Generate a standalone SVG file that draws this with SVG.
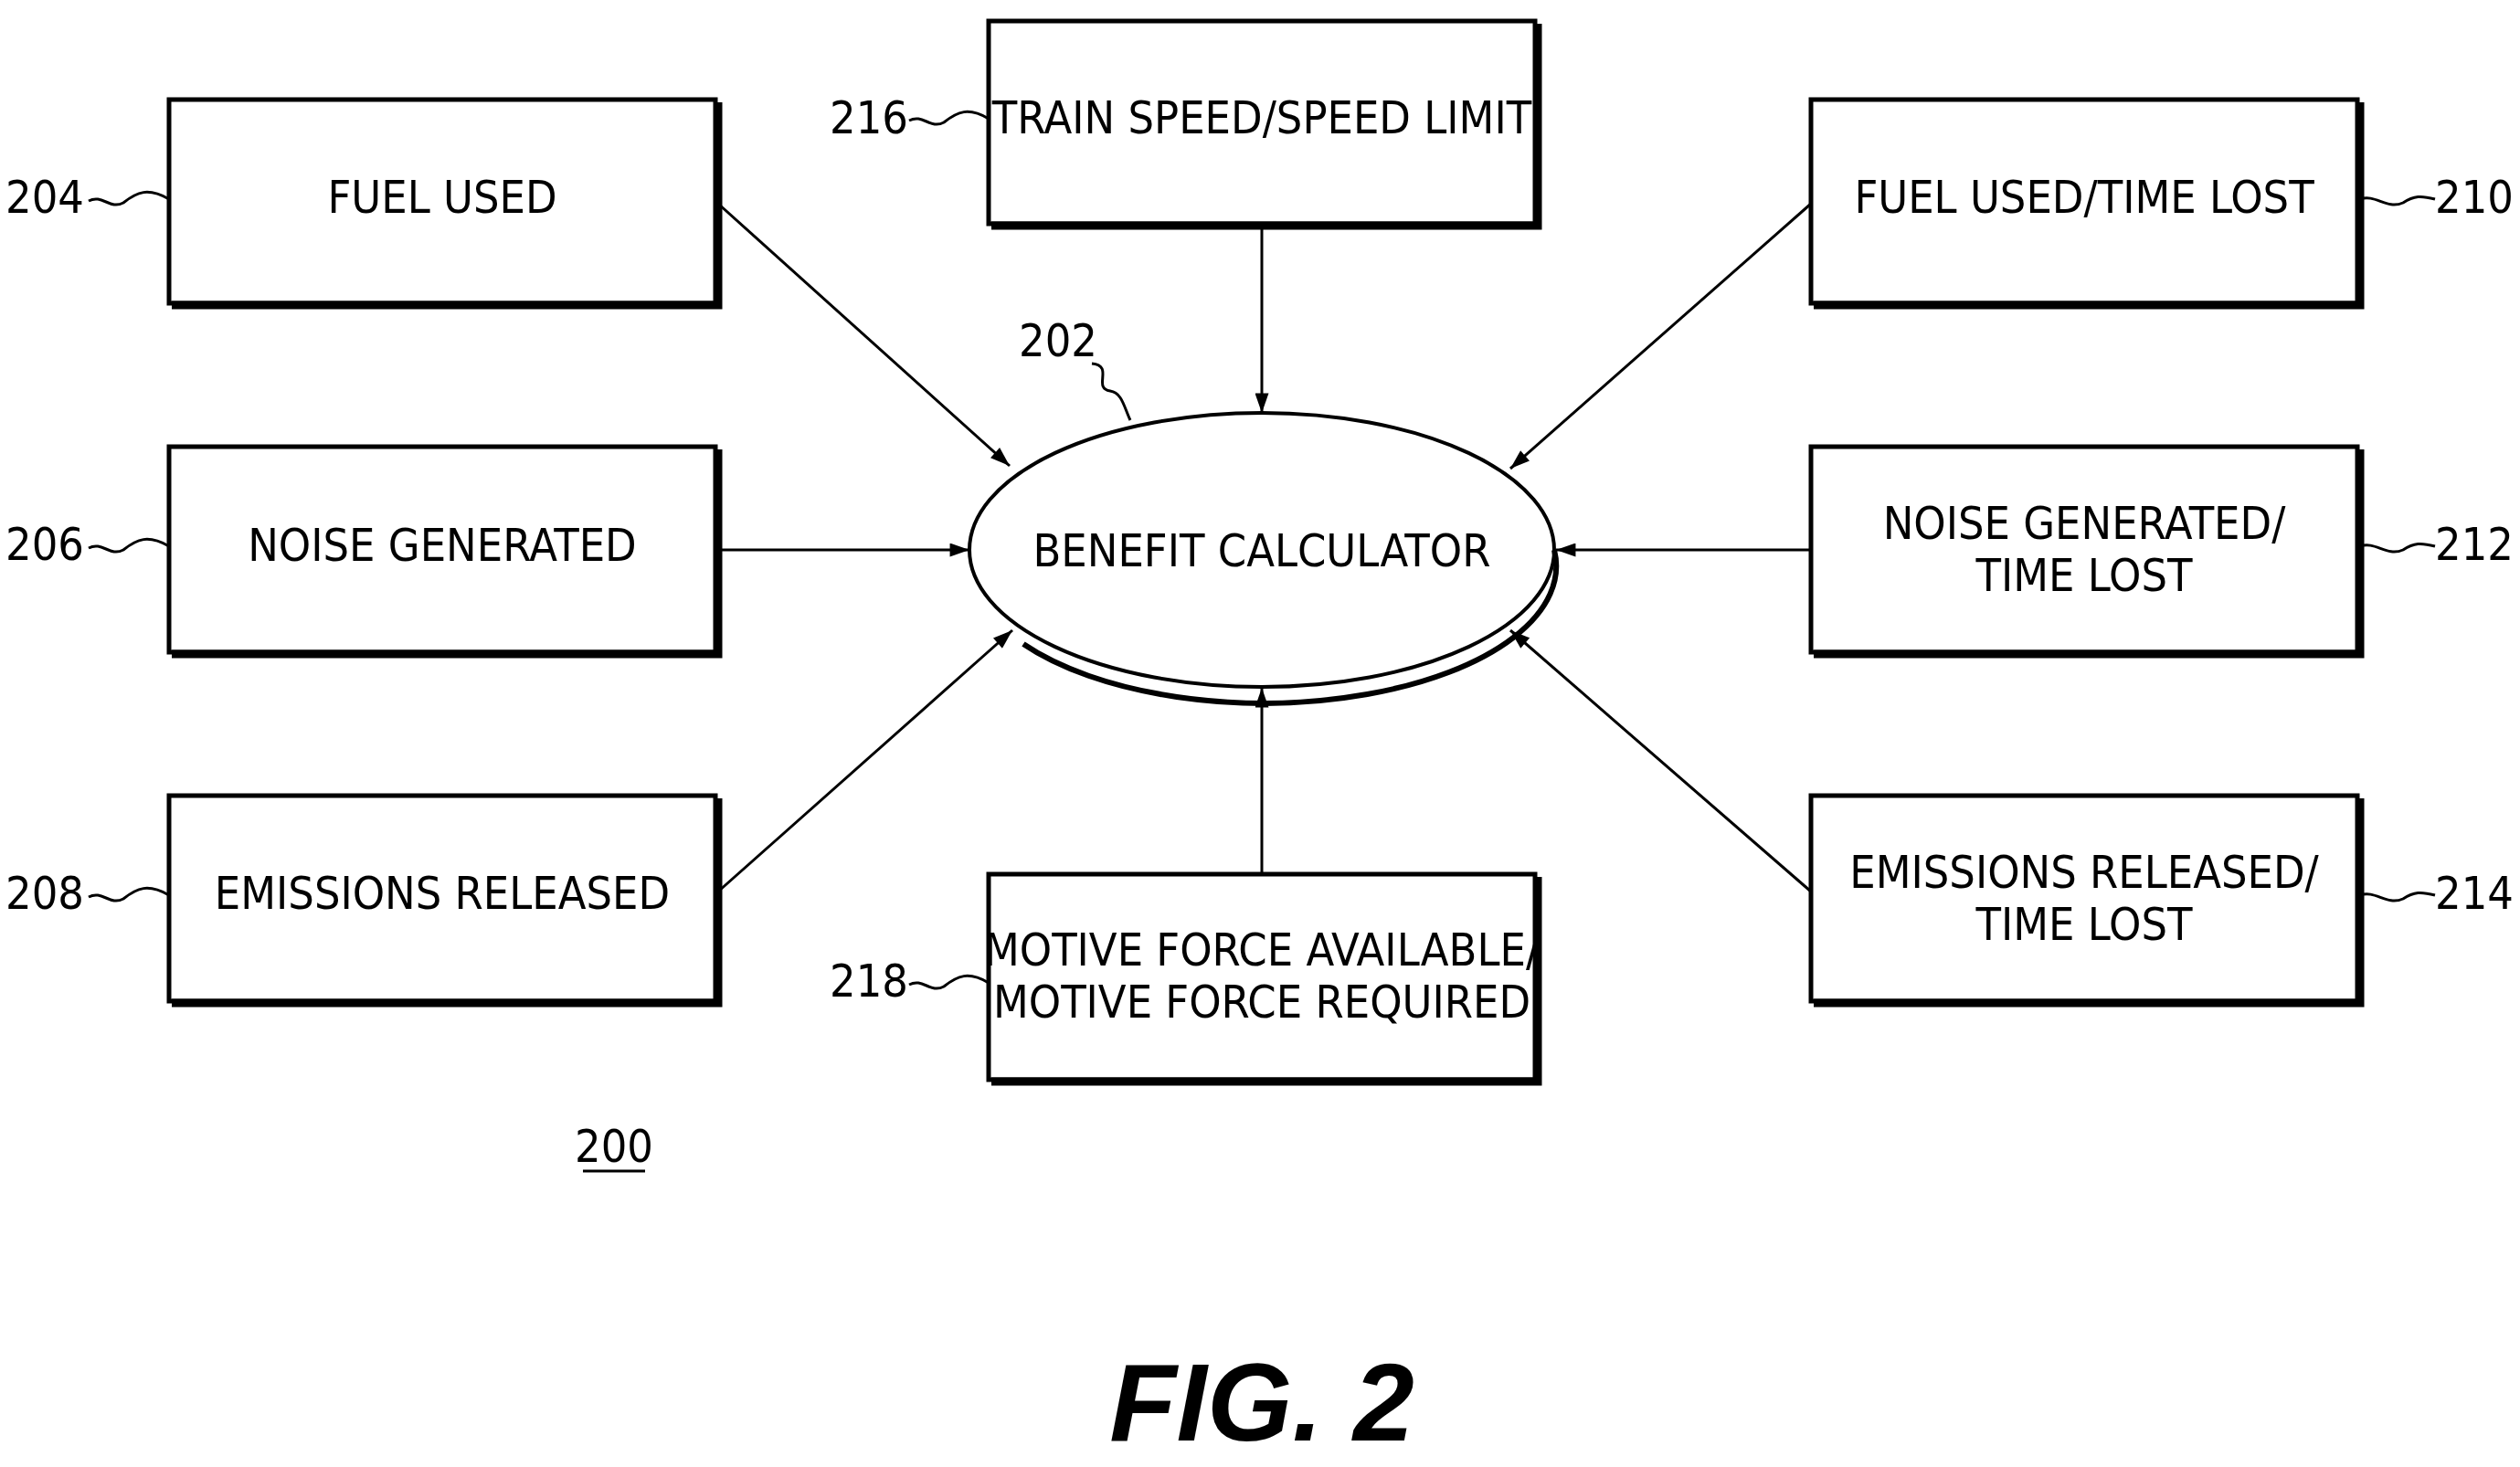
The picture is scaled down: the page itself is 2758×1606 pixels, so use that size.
<svg xmlns="http://www.w3.org/2000/svg" width="2758" height="1606" viewBox="0 0 2758 1606">
<style>
.b{fill:#fff;stroke:#000;stroke-width:5}
.s{stroke:#000;stroke-width:9;fill:none}
.t{font-family:"Liberation Sans Narrow","DejaVu Sans Condensed","Liberation Sans",sans-serif;font-size:50px;text-anchor:middle;fill:#000}
.c{stroke:#000;stroke-width:3;fill:none}
.q{stroke:#000;stroke-width:3;fill:none}
</style>
<defs><marker id="a" markerWidth="10" markerHeight="8" refX="10" refY="4" orient="auto" markerUnits="userSpaceOnUse" viewBox="0 0 10 8"><path d="M0,0 L10,4 L0,8 z" fill="#000"/></marker>
<marker id="A" viewBox="0 0 20 14" refX="20" refY="7" markerWidth="22" markerHeight="15" orient="auto" markerUnits="userSpaceOnUse"><path d="M0,0 L20,7 L0,14 z" fill="#000"/></marker></defs>
<rect width="2758" height="1606" fill="#fff"/>
<g id="n204"><rect class="b" x="185" y="109" width="598" height="223"/><path class="s" d="M188,334 H786 V112"/><text class="t" x="484" y="233">FUEL USED</text><text class="t" x="49" y="233">204</text><path class="q" d="M97,220 C112,212 120,230 135,222 C150,210 162,205 185,218"/></g>
<g id="n206"><rect class="b" x="185" y="489" width="598" height="225"/><path class="s" d="M188,716 H786 V492"/><text class="t" x="484" y="614">NOISE GENERATED</text><text class="t" x="49" y="613">206</text><path class="q" d="M97,600 C112,592 120,610 135,602 C150,590 162,585 185,598"/></g>
<g id="n208"><rect class="b" x="185" y="871" width="598" height="225"/><path class="s" d="M188,1098 H786 V874"/><text class="t" x="484" y="995">EMISSIONS RELEASED</text><text class="t" x="49" y="995">208</text><path class="q" d="M97,982 C112,974 120,992 135,984 C150,972 162,967 185,980"/></g>
<g id="n210"><rect class="b" x="1982" y="109" width="598" height="223"/><path class="s" d="M1985,334 H2583 V112"/><text class="t" x="2281" y="233">FUEL USED/TIME LOST</text><text class="t" x="2708" y="233">210</text><path class="q" d="M2583,218 C2600,212 2612,230 2630,222 C2642,214 2650,214 2665,218"/></g>
<g id="n212"><rect class="b" x="1982" y="489" width="598" height="225"/><path class="s" d="M1985,716 H2583 V492"/><text class="t" x="2281" y="590">NOISE GENERATED/</text><text class="t" x="2281" y="647">TIME LOST</text><text class="t" x="2708" y="613">212</text><path class="q" d="M2583,598 C2600,592 2612,610 2630,602 C2642,594 2650,594 2665,598"/></g>
<g id="n214"><rect class="b" x="1982" y="871" width="598" height="225"/><path class="s" d="M1985,1098 H2583 V874"/><text class="t" x="2281" y="972">EMISSIONS RELEASED/</text><text class="t" x="2281" y="1029">TIME LOST</text><text class="t" x="2708" y="995">214</text><path class="q" d="M2583,980 C2600,974 2612,992 2630,984 C2642,976 2650,976 2665,980"/></g>
<g id="n216"><rect class="b" x="1082" y="23" width="598" height="222"/><path class="s" d="M1085,247 H1683 V26"/><text class="t" x="1381" y="146">TRAIN SPEED/SPEED LIMIT</text><text class="t" x="951" y="146">216</text><path class="q" d="M995,132 C1010,124 1018,142 1033,134 C1048,122 1060,117 1082,130"/></g>
<g id="n218"><rect class="b" x="1082" y="957" width="598" height="225"/><path class="s" d="M1085,1184 H1683 V960"/><text class="t" x="1381" y="1057">MOTIVE FORCE AVAILABLE/</text><text class="t" x="1381" y="1114">MOTIVE FORCE REQUIRED</text><text class="t" x="951" y="1091">218</text><path class="q" d="M995,1078 C1010,1070 1018,1088 1033,1080 C1048,1068 1060,1063 1082,1076"/></g>
<g id="n202"><ellipse cx="1381" cy="602" rx="320" ry="150" fill="#fff" stroke="#000" stroke-width="4"/><path d="M1120,705 A320,150 0 0 0 1701,602" fill="none" stroke="#000" stroke-width="6"/><text class="t" x="1381" y="620">BENEFIT CALCULATOR</text><text class="t" x="1158" y="390">202</text><path class="q" d="M1195,398 C1220,400 1195,425 1215,428 C1228,430 1230,445 1237,460"/></g>
<g id="connectors">
<line class="c" x1="786" y1="223" x2="1105" y2="510" marker-end="url(#A)"/>
<line class="c" x1="786" y1="602" x2="1061" y2="602" marker-end="url(#A)"/>
<line class="c" x1="786" y1="976" x2="1108" y2="690" marker-end="url(#A)"/>
<line class="c" x1="1381" y1="247" x2="1381" y2="452" marker-end="url(#A)"/>
<line class="c" x1="1381" y1="957" x2="1381" y2="753" marker-end="url(#A)"/>
<line class="c" x1="1982" y1="223" x2="1653" y2="513" marker-end="url(#A)"/>
<line class="c" x1="1982" y1="602" x2="1703" y2="602" marker-end="url(#A)"/>
<line class="c" x1="1982" y1="976" x2="1653" y2="690" marker-end="url(#A)"/>
</g>
<text class="t" x="672" y="1272">200</text><line x1="638" y1="1282" x2="706" y2="1282" stroke="#000" stroke-width="3"/>
<text x="1381" y="1577" font-family="Liberation Sans,sans-serif" font-size="120" font-weight="bold" font-style="italic" text-anchor="middle">FIG. 2</text>
</svg>
